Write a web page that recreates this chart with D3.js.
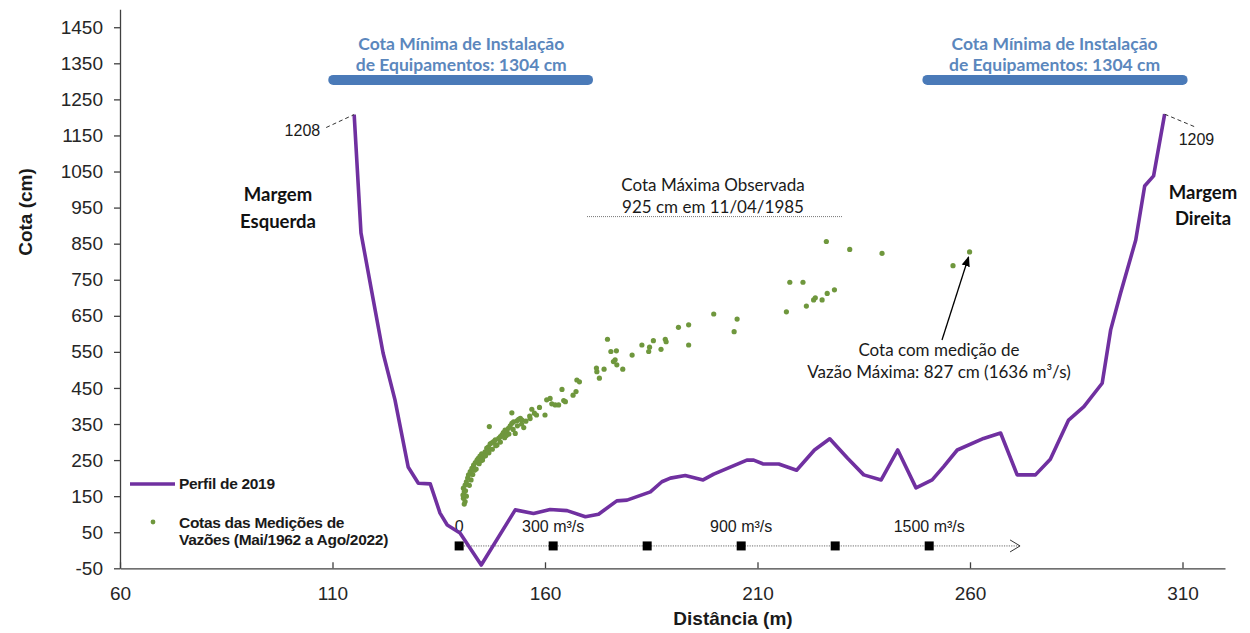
<!DOCTYPE html>
<html>
<head>
<meta charset="utf-8">
<script src="https://cdn.jsdelivr.net/npm/d3@7"></script>
<style>
  body { margin: 0; background: #fff; }
  .axis text { font-family: "Liberation Sans", Arial, sans-serif; font-size: 19px; fill: #262626; }
  .axis path, .axis line { stroke: #404040; stroke-width: 1.3; }
  .cal { font-family: Lato, "Open Sans", sans-serif; }
</style>
</head>
<body>
<div id="chart-area"></div>
<script>
// perfil 2019: distancia (m) / cota (cm)
var perfilDist = [115.1, 116.7, 119.3, 121.9, 124.7, 127.8, 130.2, 133.0, 135.3, 137.0, 140.0, 145.0,
    153.0, 157.3, 161.2, 165.2, 169.5, 172.6, 176.9, 179.3, 184.8, 187.5, 189.5, 193.0, 197.2, 199.7,
    207.5, 209.1, 211.4, 215.0, 219.2, 223.4, 227.0, 231.2, 235.0, 239.1, 243.0, 247.3, 251.1, 253.8,
    257.0, 263.2, 267.2, 271.1, 275.4, 278.9, 283.2, 286.8, 291.1, 293.1, 295.4, 299.0, 301.1, 303.2, 305.8];
var perfilCota = [1208, 880, 713, 547, 417, 231, 186, 184, 103, 70, 48, -41,
    112, 102, 113, 110, 93, 100, 137, 139, 162, 190, 200, 207, 195, 211,
    250, 250, 239, 239, 222, 278, 309, 255, 209, 195, 278, 173, 195, 232,
    278, 310, 325, 209, 209, 252, 361, 398, 463, 611, 712, 860, 1010, 1038, 1209];

// cotas das medicoes de vazao
var medDist = [141.2, 140.8, 140.7, 141.0, 140.8, 141.2, 141.5, 141.8, 142.0, 142.4, 142.8, 143.2, 143.6,
    144.0, 144.3, 144.7, 145.1, 145.5, 145.9, 146.3, 146.7, 146.9, 147.1, 147.5, 147.9, 148.3, 148.7,
    149.1, 149.5, 149.9, 150.2, 150.6, 151.0, 151.4, 151.8, 152.2, 152.2, 152.6, 153.0, 153.4, 153.8,
    154.2, 154.6, 156.4, 156.9, 158.7, 160.0, 160.4, 161.2, 161.6, 162.4, 163.2, 164.0, 164.4, 164.8,
    166.6, 167.3, 167.5, 168.1, 172.1, 172.2, 172.8, 173.9, 174.7, 175.5, 176.1, 176.5, 176.8, 176.9,
    178.3, 180.5, 182.8, 184.4, 184.6, 185.5, 187.3, 188.3, 188.5, 191.4, 193.8, 193.8, 199.7, 205.2,
    204.5, 216.8, 217.6, 220.7, 221.5, 223.2, 223.6, 225.2, 226.4, 228.1, 226.2, 231.7, 239.3, 256.0, 259.9,
    141.5, 141.0, 142.2, 143.0, 143.8, 144.5, 145.3, 146.0, 146.8, 147.6, 148.4, 149.5, 150.5, 151.5,
    152.5, 153.5, 154.5, 155.5, 156.5, 157.5, 158.0, 141.3, 142.6, 143.4, 144.9, 146.5, 150.9, 155.0];
var medCota = [135, 144, 153, 162, 172, 181, 190, 200, 209, 218, 227, 236, 243,
    250, 255, 261, 267, 259, 273, 283, 287, 343, 295, 298, 301, 306, 292,
    310, 315, 320, 326, 333, 329, 338, 345, 381, 352, 356, 324, 359, 363,
    366, 361, 372, 391, 396, 375, 417, 421, 406, 403, 403, 446, 415, 412,
    430, 440, 472, 467, 505, 495, 477, 502, 585, 551, 523, 528, 553, 514,
    502, 541, 569, 551, 563, 581, 557, 585, 578, 618, 625, 569, 655, 641,
    606, 661, 743, 743, 677, 694, 700, 694, 712, 722, 856, 834, 823, 789, 827,
    150, 128, 180, 210, 225, 240, 250, 262, 270, 280, 290, 300, 312, 322,
    335, 345, 350, 358, 365, 380, 375, 165, 195, 222, 248, 276, 318, 340];

// escala de vazao (m3/s)
var vazaoTicks = [0, 300, 600, 900, 1200, 1500];
var vazaoLabels = ["0", "300 m³/s", "", "900 m³/s", "", "1500 m³/s"];

var xTicks = [60, 110, 160, 210, 260, 310];
var yTicks = [-50, 50, 150, 250, 350, 450, 550, 650, 750, 850, 950, 1050, 1150, 1250, 1350, 1450];

var cotaMinima = 1304;
var cotaMaxima = 925;

var W = 1250, H = 633;
var svg = d3.select("#chart-area").append("svg")
    .attr("width", W)
    .attr("height", H);

var x = d3.scaleLinear().domain([60, 320]).range([120, 1225]);
var y = d3.scaleLinear().domain([-50, 1500]).range([568.3, 9.2]);
// eixo de vazao sobre a distancia
var q = d3.scaleLinear().domain([0, 1500]).range([x(139.8), x(250.4)]);

var plain = function(d) { return (d < 0 ? "-" : "") + Math.abs(d); };

// eixos
svg.append("g")
    .attr("class", "axis")
    .attr("transform", "translate(0," + y(-50) + ")")
    .call(d3.axisBottom(x).tickValues(xTicks).tickFormat(plain).tickSize(-6).tickSizeOuter(0).tickPadding(18));

svg.append("g")
    .attr("class", "axis")
    .attr("transform", "translate(" + x(60) + ",0)")
    .call(d3.axisLeft(y).tickValues(yTicks).tickFormat(plain).tickSize(6).tickSizeOuter(0).tickPadding(11));

svg.append("text")
    .attr("x", 733).attr("y", 625)
    .attr("text-anchor", "middle")
    .attr("font-family", "Liberation Sans, Arial, sans-serif")
    .attr("font-weight", "bold").attr("font-size", "19px")
    .attr("fill", "#1a1a1a")
    .text("Distância (m)");

svg.append("text")
    .attr("transform", "translate(32,212) rotate(-90)")
    .attr("text-anchor", "middle")
    .attr("font-family", "Liberation Sans, Arial, sans-serif")
    .attr("font-weight", "bold").attr("font-size", "19px")
    .attr("fill", "#1a1a1a")
    .text("Cota (cm)");

// cota minima de instalacao
var barras = [[109, 171.3, 140.3], [248.8, 311.2, 279.9]];
barras.forEach(function(b) {
    svg.append("line")
        .attr("x1", x(b[0]) + 5).attr("x2", x(b[1]) - 5)
        .attr("y1", y(cotaMinima)).attr("y2", y(cotaMinima))
        .attr("stroke", "#4a7ab8").attr("stroke-width", 10)
        .attr("stroke-linecap", "round");
    var t = svg.append("text")
        .attr("class", "cal")
        .attr("text-anchor", "middle")
        .attr("font-weight", "bold").attr("font-size", "17.5px")
        .attr("fill", "#5b87bd");
    t.append("tspan").attr("x", x(b[2])).attr("y", 50).text("Cota Mínima de Instalação");
    t.append("tspan").attr("x", x(b[2])).attr("y", 71).text("de Equipamentos: " + cotaMinima + " cm");
});

// cota maxima observada
svg.append("line")
    .attr("x1", 587).attr("x2", 843)
    .attr("y1", y(cotaMaxima)).attr("y2", y(cotaMaxima))
    .attr("stroke", "#777").attr("stroke-width", 1)
    .attr("stroke-dasharray", "1,1");
var tm = svg.append("text")
    .attr("class", "cal")
    .attr("text-anchor", "middle")
    .attr("font-size", "17px").attr("fill", "#1a1a1a");
tm.append("tspan").attr("x", 713).attr("y", 191).text("Cota Máxima Observada");
tm.append("tspan").attr("x", 713).attr("y", 213).text("925 cm em 11/04/1985");

// escala de vazao
svg.append("line")
    .attr("x1", q(0)).attr("x2", q(1790))
    .attr("y1", y(12)).attr("y2", y(12))
    .attr("stroke", "#444").attr("stroke-width", 0.8)
    .attr("stroke-dasharray", "1.2,1.2");
svg.append("path")
    .attr("d", "M" + (q(1790) - 10) + "," + (y(12) - 6) + "L" + q(1790) + "," + y(12) + "L" + (q(1790) - 10) + "," + (y(12) + 6))
    .attr("fill", "none").attr("stroke", "#333").attr("stroke-width", 1);
svg.selectAll(".qsq")
    .data(vazaoTicks)
    .enter().append("rect")
    .attr("class", "qsq")
    .attr("x", function(d) { return q(d) - 4.5; })
    .attr("y", y(12) - 4.5)
    .attr("width", 9).attr("height", 9)
    .attr("fill", "#000");
svg.selectAll(".qlab")
    .data(vazaoTicks)
    .enter().append("text")
    .attr("class", "qlab")
    .attr("x", function(d) { return q(d); })
    .attr("y", 532)
    .attr("text-anchor", "middle")
    .attr("font-family", "Liberation Sans, Arial, sans-serif")
    .attr("font-size", "16px").attr("fill", "#1a1a1a")
    .text(function(d, i) { return vazaoLabels[i]; });

// medicoes
var med = medDist.map(function(d, i) { return [d, medCota[i]]; });
svg.selectAll(".med")
    .data(med)
    .enter().append("circle")
    .attr("class", "med")
    .attr("cx", function(d) { return x(d[0]); })
    .attr("cy", function(d) { return y(d[1]); })
    .attr("r", 2.6)
    .attr("fill", "#6f973d");

// perfil
var perfil = perfilDist.map(function(d, i) { return [d, perfilCota[i]]; });
svg.append("path")
    .datum(perfil)
    .attr("d", d3.line().x(function(d) { return x(d[0]); }).y(function(d) { return y(d[1]); }))
    .attr("fill", "none")
    .attr("stroke", "#7030a0")
    .attr("stroke-width", 3.6)
    .attr("stroke-linejoin", "round");

// rotulos das margens
var p0 = perfil[0], pN = perfil[perfil.length - 1];
svg.append("line")
    .attr("x1", x(p0[0]) - 28).attr("y1", y(p0[1]) + 13)
    .attr("x2", x(p0[0])).attr("y2", y(p0[1]))
    .attr("stroke", "#333").attr("stroke-width", 1).attr("stroke-dasharray", "4,3");
svg.append("text")
    .attr("x", x(p0[0]) - 34).attr("y", y(p0[1]) + 21)
    .attr("text-anchor", "end")
    .attr("font-family", "Liberation Sans, Arial, sans-serif")
    .attr("font-size", "16px").attr("fill", "#1a1a1a")
    .text(p0[1]);
svg.append("line")
    .attr("x1", x(pN[0])).attr("y1", y(pN[1]))
    .attr("x2", x(pN[0]) + 31).attr("y2", y(pN[1]) + 13)
    .attr("stroke", "#333").attr("stroke-width", 1).attr("stroke-dasharray", "4,3");
svg.append("text")
    .attr("x", x(pN[0]) + 14).attr("y", y(pN[1]) + 31)
    .attr("font-family", "Liberation Sans, Arial, sans-serif")
    .attr("font-size", "16px").attr("fill", "#1a1a1a")
    .text(pN[1]);

var me = svg.append("text").attr("class", "cal")
    .attr("text-anchor", "middle").attr("font-weight", "bold")
    .attr("font-size", "18.5px").attr("fill", "#111");
me.append("tspan").attr("x", 278).attr("y", 201).text("Margem");
me.append("tspan").attr("x", 278).attr("y", 228).text("Esquerda");
var md = svg.append("text").attr("class", "cal")
    .attr("text-anchor", "middle").attr("font-weight", "bold")
    .attr("font-size", "18.5px").attr("fill", "#111");
md.append("tspan").attr("x", 1203).attr("y", 199).text("Margem");
md.append("tspan").attr("x", 1203).attr("y", 225).text("Direita");

// vazao maxima
var vmax = [259.9, 827];
svg.append("defs").append("marker")
    .attr("id", "arr").attr("viewBox", "0 0 10 10")
    .attr("refX", 9).attr("refY", 5)
    .attr("markerWidth", 8).attr("markerHeight", 8)
    .attr("orient", "auto")
    .append("path").attr("d", "M0,1L10,5L0,9Z").attr("fill", "#000");
svg.append("line")
    .attr("x1", 942).attr("y1", 340)
    .attr("x2", x(vmax[0]) - 1).attr("y2", y(vmax[1]) + 5)
    .attr("stroke", "#000").attr("stroke-width", 1.3)
    .attr("marker-end", "url(#arr)");
var tv = svg.append("text").attr("class", "cal")
    .attr("text-anchor", "middle")
    .attr("font-size", "17px").attr("fill", "#1a1a1a");
tv.append("tspan").attr("x", 939).attr("y", 356).text("Cota com medição de");
tv.append("tspan").attr("x", 939).attr("y", 378).text("Vazão Máxima: 827 cm (1636 m³/s)");

// legenda
svg.append("line")
    .attr("x1", 130).attr("x2", 175).attr("y1", 484).attr("y2", 484)
    .attr("stroke", "#7030a0").attr("stroke-width", 3.6);
svg.append("text")
    .attr("x", 179).attr("y", 489)
    .attr("font-family", "Liberation Sans, Arial, sans-serif")
    .attr("font-weight", "bold").attr("font-size", "15.5px")
    .attr("letter-spacing", "-0.3px")
    .attr("fill", "#1a1a1a")
    .text("Perfil de 2019");
svg.append("circle")
    .attr("cx", 153).attr("cy", 522).attr("r", 2.4)
    .attr("fill", "#6f973d");
var tl = svg.append("text")
    .attr("font-family", "Liberation Sans, Arial, sans-serif")
    .attr("font-weight", "bold").attr("font-size", "15.5px")
    .attr("letter-spacing", "-0.3px")
    .attr("fill", "#1a1a1a");
tl.append("tspan").attr("x", 179).attr("y", 528).text("Cotas das Medições de");
tl.append("tspan").attr("x", 179).attr("y", 545).text("Vazões (Mai/1962 a Ago/2022)");
</script>
</body>
</html>
